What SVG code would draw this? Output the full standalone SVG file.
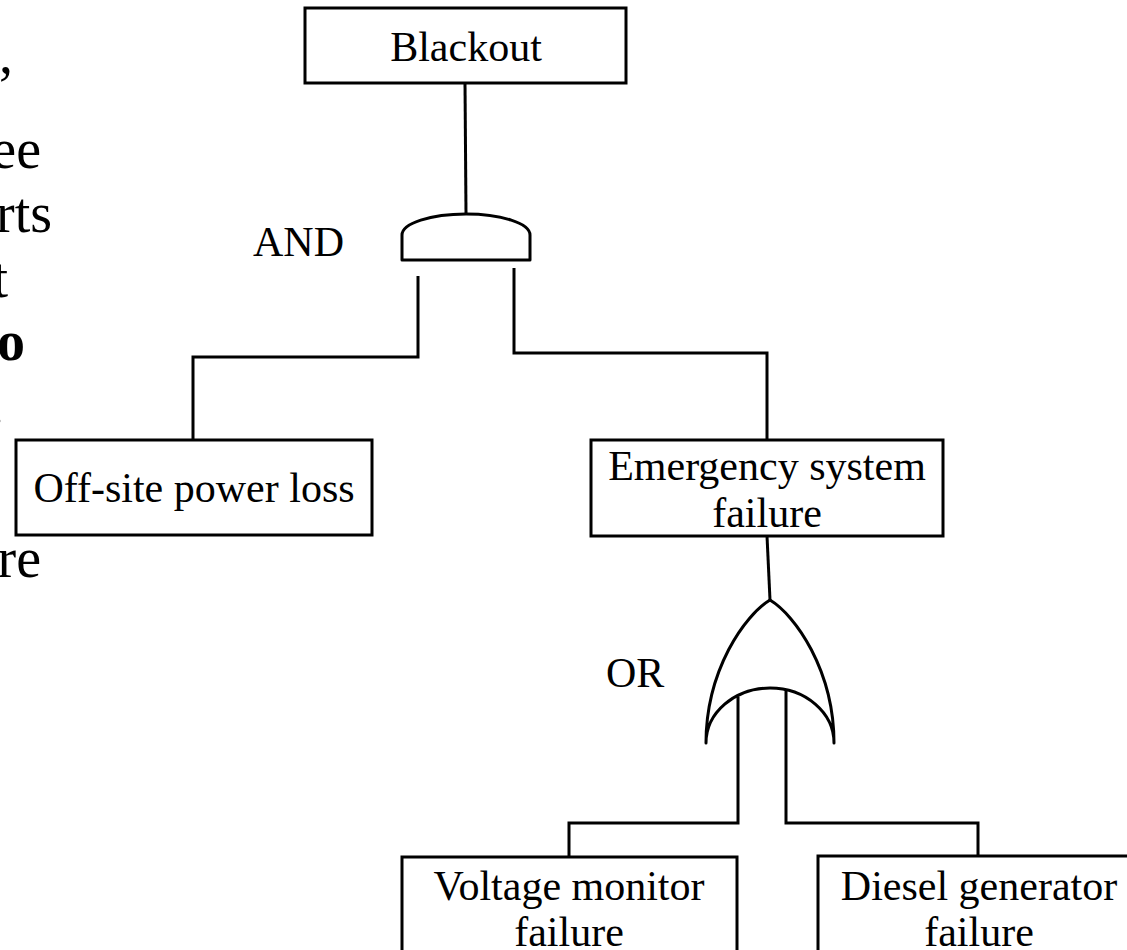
<svg xmlns="http://www.w3.org/2000/svg" width="1127" height="950" viewBox="0 0 1127 950">
<style>
.box{fill:#fff;stroke:#000;stroke-width:3}
.gate{fill:#fff;stroke:#000;stroke-width:3;stroke-linejoin:round}
.ln{fill:none;stroke:#000;stroke-width:3}
.t{font-family:"Liberation Serif","Times New Roman",serif;font-size:42px;fill:#000}
.c{text-anchor:middle}
.frag{font-family:"Liberation Serif","Times New Roman",serif;font-size:56px;fill:#000;text-anchor:end}
</style>
<rect width="1127" height="950" fill="#fff"/>
<g id="side-text">
<text class="frag" x="13" y="73">,</text>
<text class="frag" x="41" y="168">ee</text>
<text class="frag" x="52" y="232">rts</text>
<text class="frag" x="8" y="297">t</text>
<text class="frag" x="25" y="360" font-weight="bold">o</text>
<text class="frag" x="4" y="424">.</text>
<text class="frag" x="41" y="577">re</text>
</g>
<g id="connectors">
<path class="ln" d="M465,83 L466,214"/>
<path class="ln" d="M418,276 V357 H193 V440"/>
<path class="ln" d="M514,268 V353 H767 V440"/>
<path class="ln" d="M767,536 L770,600"/>
<path class="ln" d="M738,697 V823 H569 V857"/>
<path class="ln" d="M786,685 V823 H978 V857"/>
</g>
<g id="blackout">
<rect class="box" x="305" y="8" width="321" height="75"/>
<text class="t c" x="466" y="61">Blackout</text>
</g>
<g id="and-gate">
<path class="gate" d="M402,260 V235 A64,21 0 0 1 530,235 V260 Z"/>
<text class="t" x="253" y="256" font-size="40">AND</text>
</g>
<g id="offsite">
<rect class="box" x="16" y="440" width="356" height="95"/>
<text class="t c" x="194" y="502">Off-site power loss</text>
</g>
<g id="emergency">
<rect class="box" x="591" y="440" width="352" height="96"/>
<text class="t c" x="767" y="480">Emergency system</text>
<text class="t c" x="767" y="527">failure</text>
</g>
<g id="or-gate">
<path class="gate" d="M706,743 C706,670 745,615 770,600 C795,615 834,670 834,743 A64,55 0 0 0 706,743 Z"/>
<text class="t" x="606" y="687" font-size="41">OR</text>
</g>
<g id="voltage">
<rect class="box" x="402" y="857" width="335" height="110"/>
<text class="t c" x="569" y="900">Voltage monitor</text>
<text class="t c" x="569" y="946">failure</text>
</g>
<g id="diesel">
<rect class="box" x="818" y="856" width="322" height="110"/>
<text class="t c" x="979" y="900">Diesel generator</text>
<text class="t c" x="979" y="946">failure</text>
</g>
</svg>
